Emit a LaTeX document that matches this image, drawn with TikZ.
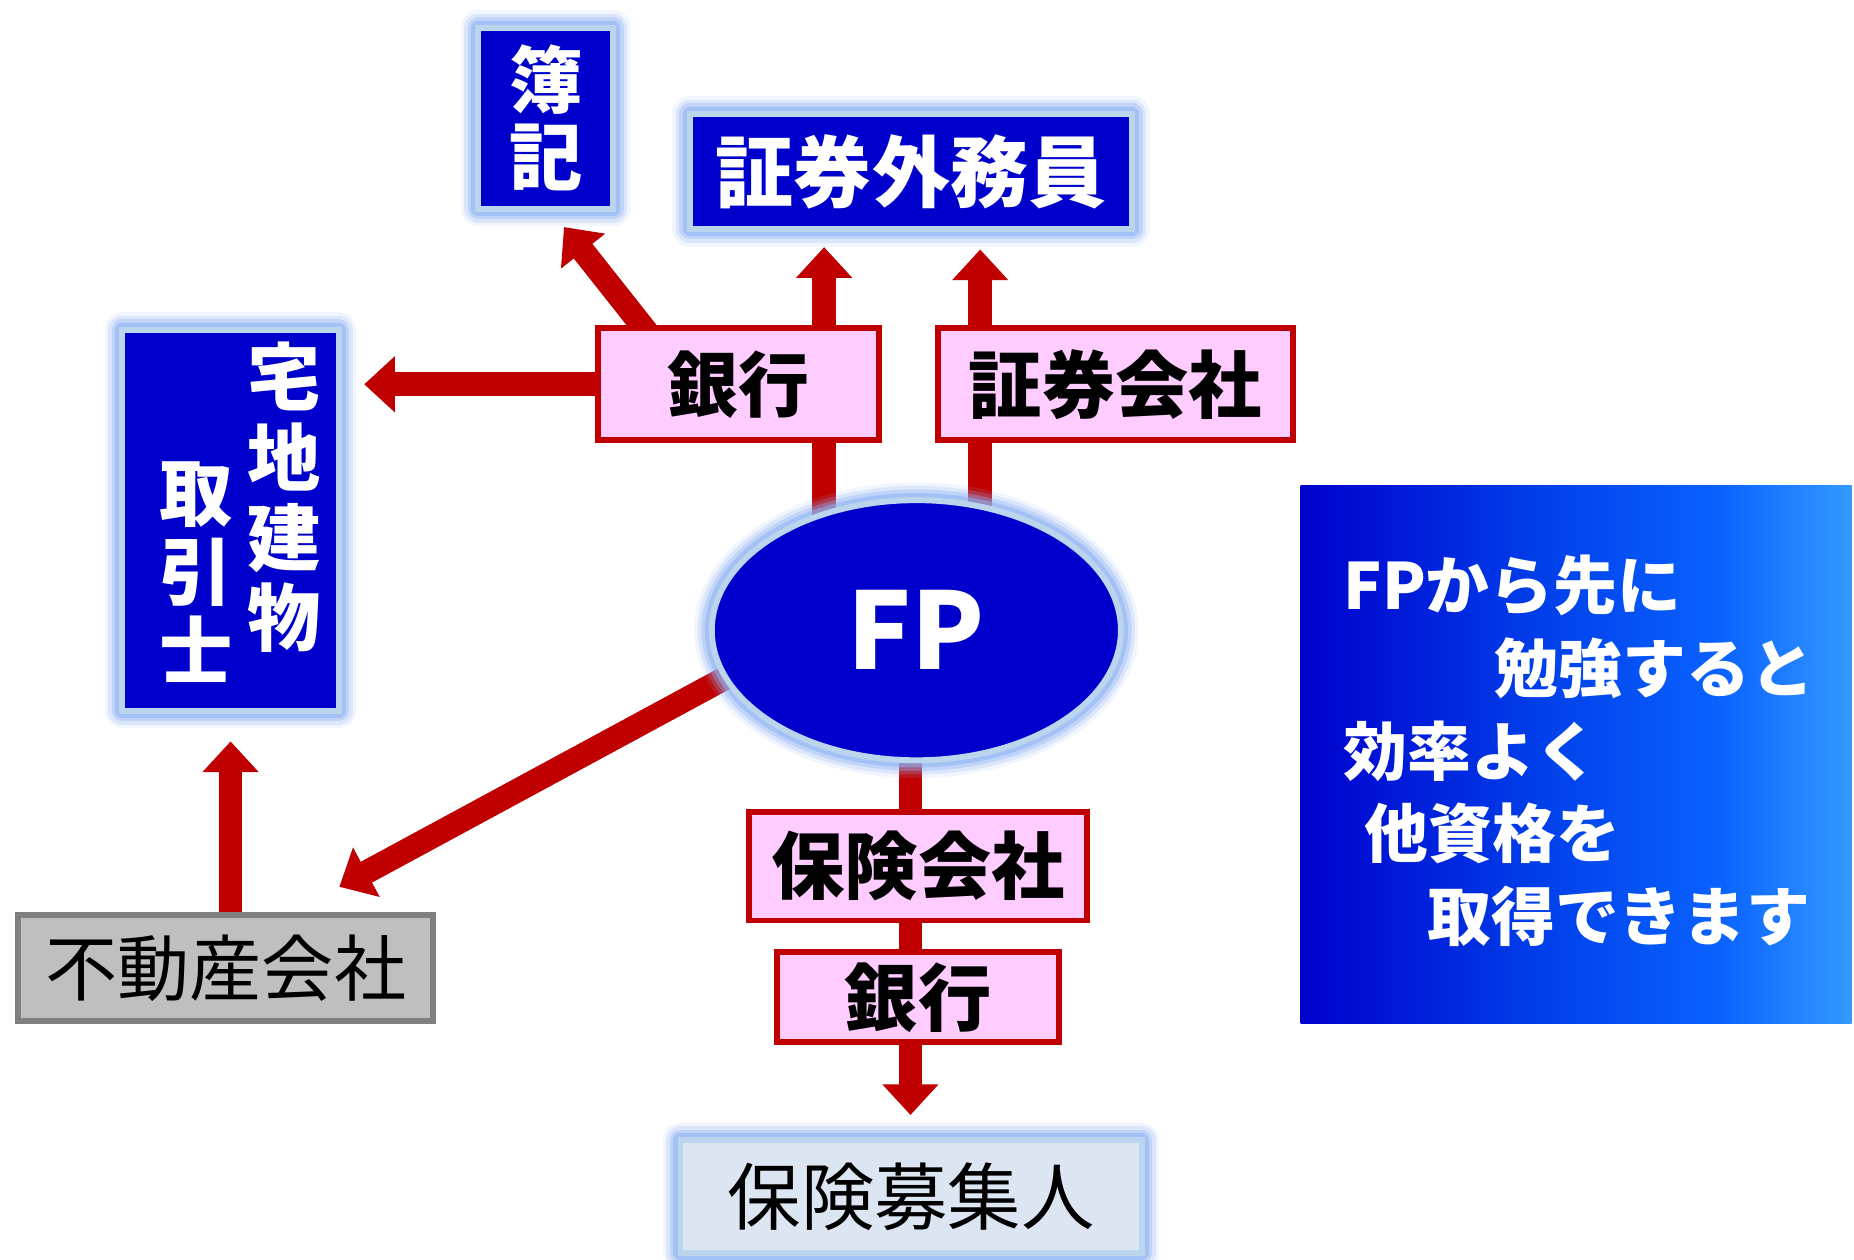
\documentclass[tikz,border=0pt]{standalone}
\usepackage{fontspec}
\newfontfamily\jp{Noto Sans CJK JP}
\usetikzlibrary{arrows.meta,calc,shapes.geometric}
\pgfdeclarelayer{bg}
\pgfdeclarelayer{arrowlayer}
\pgfsetlayers{bg,arrowlayer,main}
\definecolor{dblue}{HTML}{0000CC}
\definecolor{lightc}{HTML}{BCD5EF}
\definecolor{glowc}{HTML}{8DB3F4}
\definecolor{dred}{HTML}{C00000}
\definecolor{pinkf}{HTML}{FFCCFF}
\definecolor{grayf}{HTML}{BFBFBF}
\definecolor{grayd}{HTML}{808080}
\definecolor{boshuf}{HTML}{DCE6F2}
\definecolor{gA}{HTML}{0000CC}
\definecolor{gB}{HTML}{0040EA}
\definecolor{gC}{HTML}{0A62FF}
\definecolor{gD}{HTML}{3399FF}
\pgfdeclarehorizontalshading{gradbox}{100bp}{color(0bp)=(gA); color(25bp)=(gA); color(47bp)=(gB); color(63bp)=(gC); color(75bp)=(gD); color(100bp)=(gD)}
\newcommand{\myfs}[2]{\fontsize{#1}{#2}\selectfont}
\tikzset{
  glow/.style={
    preaction={draw=glowc,line width=30pt,opacity=0.12,line join=round},
    preaction={draw=glowc,line width=24pt,opacity=0.22,line join=round},
    preaction={draw=glowc,line width=18pt,opacity=0.35,line join=round},
    preaction={draw=glowc,line width=12pt,opacity=0.55,line join=round}},
  bluebox/.style={rectangle, draw=lightc, line width=5pt, fill=dblue, glow,
    text=white, inner sep=0pt, outer sep=0pt, align=center},
  pinkbox/.style={rectangle, draw=dred, line width=5pt, fill=pinkf, text=black,
    inner sep=0pt, outer sep=0pt, align=center, font=\jp\bfseries\myfs{62}{66}},
  graybox/.style={rectangle, draw=grayd, line width=5pt, fill=grayf, text=black,
    inner sep=0pt, outer sep=0pt, font=\jp\myfs{61}{64}},
  boshubox/.style={rectangle, draw=lightc, line width=5pt, fill=boshuf, glow, text=black,
    inner sep=0pt, outer sep=0pt, font=\jp\myfs{62}{66}},
  fpnode/.style={ellipse, draw=lightc, line width=5pt, fill=dblue, glow, text=white,
    inner sep=0pt, outer sep=0pt, font=\jp\bfseries\myfs{90}{96}},
  wtext/.style={text=white, inner sep=0pt, align=center},
  gtext/.style={text=white, inner sep=0pt, align=left, font=\jp\bfseries\myfs{54}{70}},
  arr/.style={draw=dred, line width=20pt, -{Triangle[width=46pt,length=26pt]}},
  shaft/.style={draw=dred, line width=20pt},
}
\begin{document}
\begin{tikzpicture}[x=1pt,y=-1pt]
\useasboundingbox (0,0) rectangle (1568,1065);
\begin{pgfonlayer}{bg}
  \fill[white] (0,0) rectangle (1568,1065);
\end{pgfonlayer}

% blue boxes
\node[bluebox, minimum width=114pt, minimum height=153pt, font=\jp\bfseries\myfs{62}{65}] (boki) at (461.5,100) {簿\\記};
\node[bluebox, minimum width=374pt, minimum height=97pt, font=\jp\bfseries\myfs{66}{70}] (gaimu) at (770.5,145) {証券外務員};
\node[bluebox, minimum width=183pt, minimum height=322pt] (takken) at (195,440) {};
\node[wtext, font=\jp\bfseries\myfs{62}{67.7}] (takkenR) at (240,420.5) {宅\\地\\建\\物};
\node[wtext, font=\jp\bfseries\myfs{62}{67}] (takkenL) at (166,484) {取\\引\\士};

% pink boxes
\node[pinkbox, minimum width=238pt, minimum height=95pt, font=\jp\bfseries\myfs{60}{64}] (ginko1) at (624.5,325) {銀行};
\node[pinkbox, minimum width=300pt, minimum height=95pt] (shoken) at (943.5,325) {証券会社};
\node[pinkbox, minimum width=286pt, minimum height=92pt] (hoken) at (776.5,732.5) {保険会社};
\node[pinkbox, minimum width=238pt, minimum height=76pt] (ginko2) at (776.5,843.5) {銀行};

% FP
\node[fpnode, minimum width=346pt, minimum height=220pt] (fp) at (775,533) {FP};

% others
\node[graybox, minimum width=351pt, minimum height=90pt] (fudosan) at (191,818.5) {不動産会社};
\node[boshubox, minimum width=390pt, minimum height=95pt] (boshu) at (770.5,1012) {保険募集人};

% gradient box
\node[rectangle, shading=gradbox, minimum width=466pt, minimum height=455pt, inner sep=0pt] (grad) at (1333,638.5) {};
\node[gtext, anchor=west] (gradtext) at (1136,635) {FPから先に\\\hspace*{128pt}勉強すると\\効率よく\\\hspace*{18pt}他資格を\\\hspace*{71pt}取得できます};

% helper coordinates
\coordinate (vx) at (770,0);
\coordinate (g1x) at (697,0);
\coordinate (s1x) at (829,0);
\coordinate (gtip) at (0,209);
\coordinate (stip) at (0,211);
\coordinate (btip) at (0,943);
\coordinate (ltip) at (308,0);
\coordinate (ttip) at (0,627);
\coordinate (fdtip) at (287,750);
\coordinate (bktip) at (477,192);

\begin{pgfonlayer}{arrowlayer}
  \draw[shaft] (g1x |- fp.center) -- (g1x |- ginko1.south);
  \draw[arr] (g1x |- ginko1.north) -- (g1x |- gtip);
  \draw[shaft] (s1x |- fp.center) -- (s1x |- shoken.south);
  \draw[arr] (s1x |- shoken.north) -- (s1x |- stip);
  \draw[arr] ([xshift=-72pt,yshift=-10pt]ginko1.north) -- (bktip);
  \draw[arr] (ginko1.west) -- (ltip |- ginko1.west);
  \draw[arr] (takken.south |- fudosan.north) -- (takken.south |- ttip);
  \draw[arr] ($(fp.194)!-30pt!(fdtip)$) -- (fdtip);
  \draw[shaft] (vx |- fp.center) -- (vx |- hoken.north);
  \draw[shaft] (vx |- hoken.south) -- (vx |- ginko2.north);
  \draw[arr] (vx |- ginko2.south) -- (vx |- btip);
\end{pgfonlayer}
\end{tikzpicture}
\end{document}
